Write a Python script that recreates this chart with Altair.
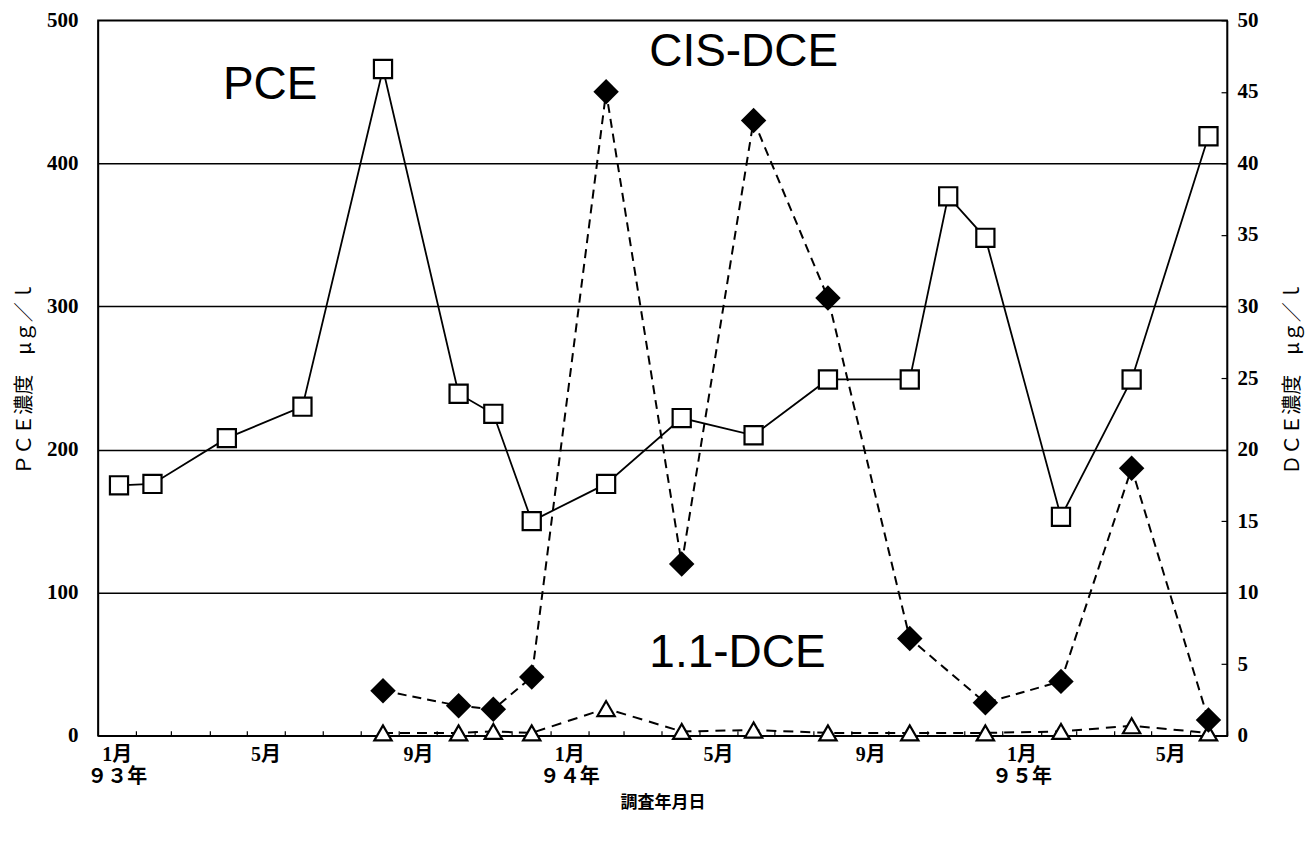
import altair as alt
import pandas as pd

# ---------------- data ----------------
pce_dates = ["1993-01-18", "1993-02-14", "1993-04-15", "1993-06-15", "1993-08-19",
             "1993-10-19", "1993-11-16", "1993-12-17", "1994-02-15", "1994-04-17",
             "1994-06-14", "1994-08-13", "1994-10-18", "1994-11-18", "1994-12-18",
             "1995-02-17", "1995-04-15", "1995-06-16"]
pce_values = [175, 176, 208, 230, 466, 239, 225, 150, 176, 222,
              210, 249, 249, 377, 348, 153, 249, 419]

dce_dates = ["1993-08-19", "1993-10-19", "1993-11-16", "1993-12-17", "1994-02-15",
             "1994-04-17", "1994-06-14", "1994-08-13", "1994-10-18", "1994-12-18",
             "1995-02-17", "1995-04-15", "1995-06-16"]
cis_dce_values = [3.15, 2.1, 1.85, 4.1, 45.0, 12.0, 43.0, 30.6, 6.8, 2.3, 3.8, 18.7, 1.1]
dce11_values = [0.2, 0.2, 0.3, 0.2, 1.9, 0.3, 0.4, 0.2, 0.2, 0.2, 0.3, 0.7, 0.2]

label_texts = ["PCE", "CIS-DCE", "1.1-DCE"]
label_dates = ["1993-05-20", "1994-06-06", "1994-06-01"]
label_values = [455, 478, 58]

month_labels = {1: "1月", 5: "5月", 9: "9月"}
year_labels = {1993: "９３年", 1994: "９４年", 1995: "９５年"}
pce_ticks = [0, 100, 200, 300, 400, 500]
dce_ticks = [0, 5, 10, 15, 20, 25, 30, 35, 40, 45, 50]

# ---------------- frames ----------------
pce_df = pd.DataFrame({"date": pce_dates, "pce": pce_values})
cis_df = pd.DataFrame({"date": dce_dates, "value": cis_dce_values})
d11_df = pd.DataFrame({"date": dce_dates, "value": dce11_values})
lab_df = pd.DataFrame({"date": label_dates, "pce": label_values, "text": label_texts})

W, H = 1130, 716
LABEL_FONT = "Liberation Serif, Noto Sans CJK JP"
CJK = "Noto Sans CJK JP"

tick_values = [alt.DateTime(year=1993 + (i // 12), month=(i % 12) + 1, date=1, utc=True)
               for i in range(31)]

year_expr = "(" + "".join(f"utcyear(datum.value)=={y} ? '{lab}' : " for y, lab in year_labels.items()) + "'')"
label_expr = ""
for m, lab in month_labels.items():
    if m == 1:
        label_expr += f"utcmonth(datum.value)=={m - 1} ? ['{lab}', {year_expr}] : "
    else:
        label_expr += f"utcmonth(datum.value)=={m - 1} ? '{lab}' : "
label_expr += "''"

x_enc = alt.X(
    "date:T",
    scale=alt.Scale(type="utc", nice=False,
                    domain=[alt.DateTime(year=1993, month=1, date=1, utc=True),
                            alt.DateTime(year=1995, month=7, date=1, utc=True)]),
    axis=alt.Axis(
        values=tick_values, labelExpr=label_expr, grid=False,
        tickSize={"expr": "-5"}, tickColor="black", tickWidth=1.2,
        domainColor="black", domainWidth=1.5,
        labelOffset=W / 30 / 2, labelPadding=14, labelOverlap=False,
        labelBound=False, labelFlush=False, labelLineHeight=22,
        labelFont=LABEL_FONT, labelFontSize=20, labelFontWeight="bold", labelColor="black",
        title="調査年月日", titleFont=CJK, titleFontSize=17, titleFontWeight="bold",
        titleColor="black", titlePadding=8,
    ),
)

y_left = alt.Y(
    "pce:Q",
    scale=alt.Scale(domain=[0, 500], nice=False),
    axis=alt.Axis(
        values=pce_ticks, grid=True, gridColor="black", gridWidth=1.5,
        domainColor="black", domainWidth=1.5, ticks=False, tickSize=0,
        labelPadding=20, labelFont=LABEL_FONT, labelFontSize=21, labelFontWeight="bold",
        labelColor="black",
        title="ＰＣＥ濃度　μｇ／ｌ", titleFont=CJK, titleFontSize=20,
        titleFontWeight="normal", titleColor="black", titlePadding=12,
    ),
)

y_right = alt.Y(
    "value:Q",
    scale=alt.Scale(domain=[0, 50], nice=False),
    axis=alt.Axis(
        orient="right", values=dce_ticks, grid=False,
        domainColor="black", domainWidth=1.5,
        tickSize={"expr": "-6"}, tickColor="black", tickWidth=1.2,
        labelPadding=16, labelFont=LABEL_FONT, labelFontSize=21, labelFontWeight="bold",
        labelColor="black",
        title="ＤＣＥ濃度　μｇ／ｌ", titleAngle=270, titleFont=CJK, titleFontSize=20,
        titleFontWeight="normal", titleColor="black", titlePadding=44,
    ),
)

pce_line = alt.Chart(pce_df).mark_line(color="black", strokeWidth=1.8).encode(x=x_enc, y=y_left)
pce_pts = alt.Chart(pce_df).mark_point(
    shape="square", filled=True, fill="white", stroke="black", strokeWidth=2.2,
    size=330, opacity=1).encode(x=x_enc, y=y_left)
labels = alt.Chart(lab_df).mark_text(
    font="Liberation Sans", fontSize=46, color="black").encode(x=x_enc, y=y_left, text="text:N")

cis_line = alt.Chart(cis_df).mark_line(color="black", strokeWidth=2, strokeDash=[9, 6]).encode(x=x_enc, y=y_right)
d11_line = alt.Chart(d11_df).mark_line(color="black", strokeWidth=2, strokeDash=[10, 7]).encode(x=x_enc, y=y_right)
d11_pts = alt.Chart(d11_df).mark_point(
    shape="triangle-up", filled=True, fill="white", stroke="black", strokeWidth=2.2,
    size=300, opacity=1).encode(x=x_enc, y=y_right)
cis_pts = alt.Chart(cis_df).mark_point(
    shape="diamond", filled=True, color="black", size=650, opacity=1).encode(x=x_enc, y=y_right)

left = alt.layer(pce_line, pce_pts, labels)
right = alt.layer(cis_line, d11_line, d11_pts, cis_pts)

chart = (
    alt.layer(left, right)
    .resolve_scale(y="independent")
    .properties(width=W, height=H, autosize=alt.AutoSizeParams(type="none"),
                padding={"left": 90, "top": 12, "right": 80, "bottom": 95},
                background="white")
    .configure_view(stroke="black", strokeWidth=1.5)
)

chart.save("out.html", embed_options={"renderer": "svg", "actions": False})
